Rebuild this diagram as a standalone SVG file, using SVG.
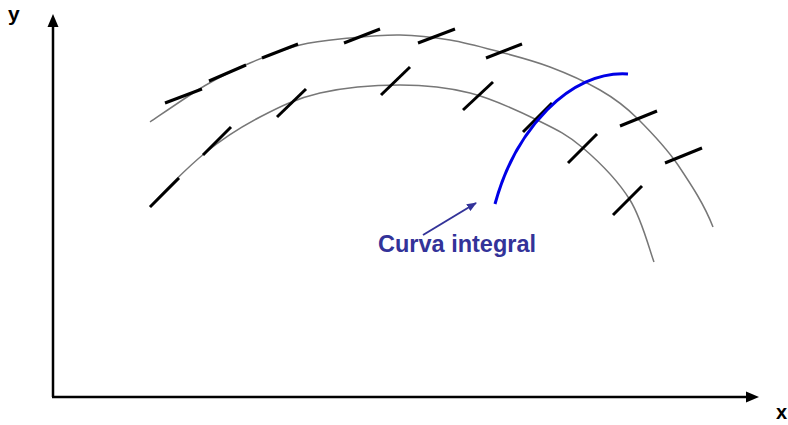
<svg xmlns="http://www.w3.org/2000/svg" width="788" height="425" viewBox="0 0 788 425">
<style>
.axis{stroke:#000;stroke-width:2.5;fill:none}
.arc{stroke:#777;stroke-width:1.5;fill:none}
.mark{stroke:#000;stroke-width:3;stroke-linecap:butt}
.lbl{font-family:"Liberation Sans",Arial,sans-serif;font-weight:bold}
</style>
<defs>
<marker id="ah" markerWidth="10" markerHeight="8" refX="9" refY="4" orient="auto" markerUnits="userSpaceOnUse">
<path d="M0,0 L10,4 L0,8 Z" fill="#333399"/>
</marker>
</defs>
<rect width="788" height="425" fill="#fff"/>
<g id="axes">
<line class="axis" x1="53" y1="397" x2="53" y2="26"/>
<polygon points="53,14 47.5,27 58.5,27" fill="#000"/>
<line class="axis" x1="52" y1="397" x2="748" y2="397"/>
<polygon points="759,397 746,391.5 746,402.5" fill="#000"/>
<text class="lbl" x="8" y="21" font-size="21">y</text>
<text class="lbl" x="776" y="419" font-size="20">x</text>
</g>
<g id="outer-curve">
<path class="arc" d="M150,122 C159.3,115.8 189.3,94.8 206,85 C222.7,75.2 234.3,69.7 250,63 C265.7,56.3 283.3,49.2 300,45 C316.7,40.8 333.3,39.7 350,38 C366.7,36.3 383.3,34.7 400,35 C416.7,35.3 433.3,37.2 450,40 C466.7,42.8 483.3,47.5 500,52 C516.7,56.5 533.3,60.7 550,67 C566.7,73.3 585.5,81.7 600,90 C614.5,98.3 626,107 638,119 C652,133 667,149 678,165 C692,186 704,204 713,227"/>
</g>
<g id="inner-curve">
<path class="arc" d="M150,207 C159,196 186.7,168 205,153 C223.3,138 240.8,127 260,117 C279.2,107 296.7,98.3 320,93 C343.3,87.7 375,85 400,85 C425,85 447.2,87.2 470,93 C492.8,98.8 518.2,110.8 537,120 C555.8,129.2 567.5,134.7 583,148 C598.5,161.3 618.2,181 630,200 C641.8,219 650,251.7 654,262"/>
</g>
<g id="slope-marks">
<line class="mark" x1="165" y1="103" x2="202" y2="89"/>
<line class="mark" x1="209" y1="81" x2="246" y2="65"/>
<line class="mark" x1="262" y1="58" x2="298" y2="44"/>
<line class="mark" x1="344" y1="43" x2="380" y2="29"/>
<line class="mark" x1="418" y1="43" x2="455" y2="29"/>
<line class="mark" x1="486" y1="58" x2="522" y2="44"/>
<line class="mark" x1="620" y1="126" x2="657" y2="111"/>
<line class="mark" x1="665" y1="163" x2="702" y2="148"/>
<line class="mark" x1="150" y1="207" x2="179" y2="178"/>
<line class="mark" x1="203" y1="155" x2="231" y2="127"/>
<line class="mark" x1="277" y1="117" x2="306" y2="89"/>
<line class="mark" x1="381" y1="95" x2="410" y2="67"/>
<line class="mark" x1="463" y1="110" x2="493" y2="82"/>
<line class="mark" x1="523" y1="132" x2="552" y2="103"/>
<line class="mark" x1="568" y1="163" x2="597" y2="134"/>
<line class="mark" x1="613" y1="215" x2="642" y2="186"/>
</g>
<g id="integral-curve">
<path d="M495,204 C515,130 570,70 628,74" fill="none" stroke="#0000e6" stroke-width="3"/>
</g>
<g id="connectors">
<line x1="423" y1="235" x2="476" y2="203" stroke="#333399" stroke-width="2" marker-end="url(#ah)"/>
</g>
<g id="label">
<text class="lbl" x="378" y="252" font-size="23.5" fill="#333399">Curva integral</text>
</g>
</svg>
